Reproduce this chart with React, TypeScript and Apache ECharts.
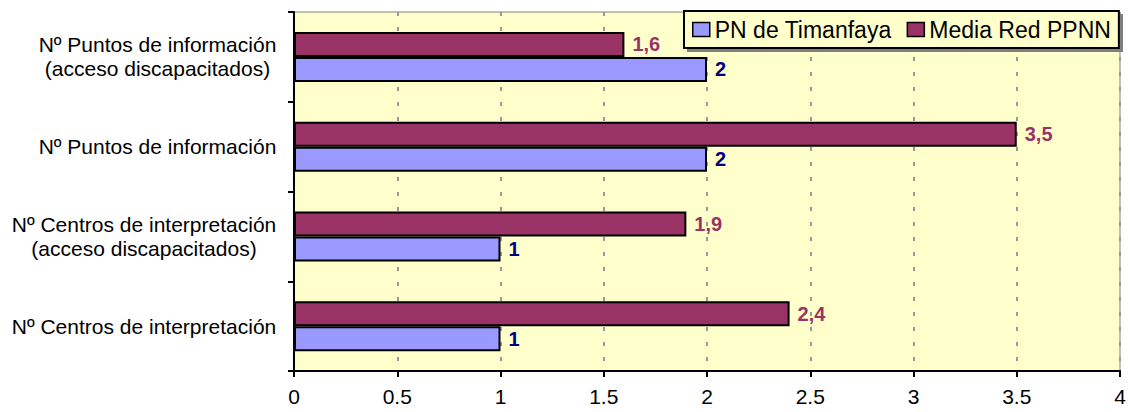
import React, { useEffect, useRef } from "react";
import * as echarts from "echarts";

const categories = [
  "Nº Centros de interpretación",
  "Nº Centros de interpretación\n(acceso discapacitados)",
  "Nº Puntos de información",
  "Nº Puntos de información\n(acceso discapacitados)",
];
const seriesNames = ["PN de Timanfaya", "Media Red PPNN"];
const timanfaya = [1, 1, 2, 2];
const mediaRed = [2.4, 1.9, 3.5, 1.6];
const xTicks = { min: 0, max: 4, interval: 0.5 };

const FONT = "'Liberation Sans', Arial, sans-serif";
const LABEL_SIZE = 21;
const LEGEND_SIZE = 23;

function measure(text: string, size: number): number {
  const c = document.createElement("canvas").getContext("2d");
  if (!c) return text.length * size * 0.5;
  c.font = `${size}px ${FONT}`;
  return Math.ceil(c.measureText(text).width) + 1;
}

export default function App() {
  const ref = useRef<HTMLDivElement>(null);
  useEffect(() => {
    if (!ref.current) return;
    const chart = echarts.init(ref.current, undefined, { renderer: "svg" });
    const fmt = (p: any) => String(p.value).replace(".", ",");
    const rich: Record<string, any> = {};
    categories.forEach((c, i) => {
      const w = Math.max(...c.split("\n").map((l) => measure(l, LABEL_SIZE)));
      rich["l" + i] = {
        width: w,
        align: "center",
        fontSize: LABEL_SIZE,
        lineHeight: 24,
        color: "#000000",
        fontFamily: FONT,
      };
    });
    const labelFmt = (value: string, index: number) =>
      value
        .split("\n")
        .map((l) => `{l${index}|${l}}`)
        .join("\n");
    const labelStyle = (color: string) => ({
      show: true,
      position: "right",
      distance: 8,
      formatter: fmt,
      fontSize: 20,
      fontWeight: "bold",
      color,
      fontFamily: FONT,
    });
    const legendLeft = 684;
    const legendTop = 11;
    const pad = [7, 8, 7, 8];
    const iconW = 17;
    const legendW =
      pad[3] +
      pad[1] +
      seriesNames.reduce((s, n) => s + iconW + 5 + measure(n, LEGEND_SIZE), 0) +
      15 * (seriesNames.length - 1);
    const legendH = pad[0] + pad[2] + LEGEND_SIZE + 1;
    chart.setOption({
      animation: false,
      backgroundColor: "#FFFFFF",
      textStyle: { fontFamily: FONT },
      grid: {
        left: 294,
        right: 11,
        top: 12,
        bottom: 41,
        show: true,
        backgroundColor: "#FFFFCC",
        borderColor: "#808080",
        borderWidth: 1,
      },
      graphic: [
        {
          type: "rect",
          z: 3,
          shape: { x: legendLeft + 3, y: legendTop + 3, width: legendW, height: legendH },
          style: { fill: "#808080" },
          silent: true,
        },
      ],
      legend: {
        left: legendLeft,
        top: legendTop,
        z: 4,
        orient: "horizontal",
        itemWidth: iconW,
        itemHeight: 14,
        itemGap: 15,
        padding: pad,
        backgroundColor: "#FFFFCC",
        borderColor: "#000000",
        borderWidth: 2,
        borderRadius: 0,
        icon: "rect",
        itemStyle: { borderColor: "#000000", borderWidth: 1.5 },
        textStyle: { fontSize: LEGEND_SIZE, color: "#000000", fontFamily: FONT },
        data: seriesNames,
      },
      xAxis: {
        type: "value",
        min: xTicks.min,
        max: xTicks.max,
        interval: xTicks.interval,
        axisLine: { show: true, lineStyle: { color: "#000000", width: 2 } },
        axisTick: { show: true, length: 6, lineStyle: { color: "#000000", width: 2 } },
        axisLabel: { fontSize: 21, color: "#000000", margin: 15, fontFamily: FONT },
        splitLine: { show: true, lineStyle: { color: "#999999", width: 2, type: [4, 11] } },
      },
      yAxis: {
        type: "category",
        data: categories,
        axisLine: { show: true, lineStyle: { color: "#000000", width: 2 } },
        axisTick: { show: true, length: 6, lineStyle: { color: "#000000", width: 2 } },
        axisLabel: {
          fontSize: LABEL_SIZE,
          lineHeight: 24,
          color: "#000000",
          margin: 17,
          fontFamily: FONT,
          formatter: labelFmt,
          rich,
        },
        splitLine: { show: false },
      },
      series: [
        {
          name: seriesNames[1],
          type: "bar",
          data: mediaRed,
          barWidth: 25,
          barGap: "0%",
          itemStyle: { color: "#993366", borderColor: "#000000", borderWidth: 2 },
          label: labelStyle("#993366"),
        },
        {
          name: seriesNames[0],
          type: "bar",
          data: timanfaya,
          barWidth: 25,
          barGap: "0%",
          itemStyle: { color: "#9999FF", borderColor: "#000000", borderWidth: 2 },
          label: labelStyle("#000080"),
        },
      ],
    });
    return () => chart.dispose();
  }, []);
  return (
    <div
      ref={ref}
      style={{ position: "absolute", left: 0, top: 0, width: 1131, height: 412 }}
    />
  );
}
